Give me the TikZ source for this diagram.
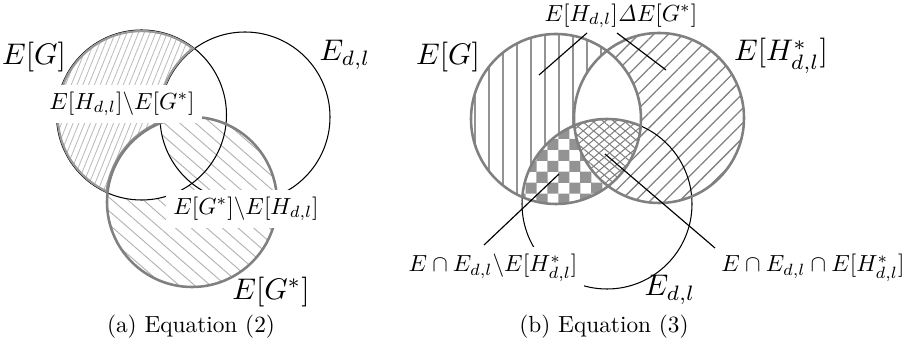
\documentclass[tikz,border=0pt]{standalone}
\usepackage{amsmath}
\usetikzlibrary{patterns,patterns.meta}
\pgfdeclarepattern{
  name=bigchecker,
  type=uncolored,
  bottom left={\pgfpoint{-0.1pt}{-0.1pt}},
  top right={\pgfpoint{9.5pt}{9.5pt}},
  tile size={\pgfpoint{9.4pt}{9.4pt}},
  code={
    \pgfpathrectangle{\pgfpointorigin}{\pgfpoint{4.75pt}{4.75pt}}
    \pgfpathrectangle{\pgfpoint{4.7pt}{4.7pt}}{\pgfpoint{4.75pt}{4.75pt}}
    \pgfusepath{fill}
  }
}
\def\circr{85}
\begin{document}
\begin{tikzpicture}[x=0.4293pt,y=-0.4293pt,
  thinc/.style={draw=black, line width=0.45pt},
  grayc/.style={draw=gray, line width=1.1pt},
  grayin/.style={draw=gray!80, line width=1.9pt},
  biglbl/.style={scale=1.28, transform shape, inner sep=0pt},
  wlbl/.style={fill=white, inner sep=3pt},
  plbl/.style={inner sep=0pt},
  leader/.style={draw=black, line width=0.5pt},
]
\useasboundingbox (0,0) rectangle (914,347);
% ---------------- (a) ----------------
\coordinate (ga) at (141.5,115);
\coordinate (da) at (245,117);
\coordinate (sa) at (192,202);
% region 1: E[G] \ (E_dl u E[G*])
\begin{scope}[even odd rule]
  \clip (ga) circle[radius=\circr];
  \clip (0,0) rectangle (914,347) (da) circle[radius=\circr];
  \clip (0,0) rectangle (914,347) (sa) circle[radius=\circr];
  \fill[pattern={Lines[angle=68,distance=2.3pt,line width=0.35pt]}, pattern color=gray!55] (0,0) rectangle (914,347);
\end{scope}
% region 2a: E[G*] n E_dl
\begin{scope}
  \clip (sa) circle[radius=\circr];
  \clip (da) circle[radius=\circr];
  \fill[pattern={Lines[angle=-41,distance=4.4pt,line width=0.4pt]}, pattern color=gray!60] (0,0) rectangle (914,347);
\end{scope}
% region 2b: E[G*] \ (E[G] u E_dl)
\begin{scope}[even odd rule]
  \clip (sa) circle[radius=\circr];
  \clip (0,0) rectangle (914,347) (ga) circle[radius=\circr];
  \clip (0,0) rectangle (914,347) (da) circle[radius=\circr];
  \fill[pattern={Lines[angle=-41,distance=4.4pt,line width=0.4pt]}, pattern color=gray!60] (0,0) rectangle (914,347);
\end{scope}
\draw[thinc] (ga) circle[radius=\circr];
\draw[thinc] (da) circle[radius=\circr];
\begin{scope}[even odd rule]
  \clip (ga) circle[radius=\circr];
  \clip (0,0) rectangle (914,347) (da) circle[radius=\circr];
  \clip (0,0) rectangle (914,347) (sa) circle[radius=\circr];
  \draw[grayin] (ga) circle[radius=\circr];
  \draw[grayin] (da) circle[radius=\circr];
  \draw[grayin] (sa) circle[radius=\circr];
\end{scope}
\draw[grayc] (sa) circle[radius=\circr];
\node[biglbl] (nGa) at (34,57) {$E[G]$};
\node[biglbl] (nDa) at (345,55) {$E_{d,l}$};
\node[biglbl] (nSa) at (271,292) {$E[G^*]$};
\node[wlbl] (nR1) at (122,104) {$E[H_{d,l}]\backslash E[G^*]$};
\node[wlbl] (nR2) at (246,209) {$E[G^*]\backslash E[H_{d,l}]$};
\node[plbl] (capA) at (191,327) {(a) Equation (2)};
% ---------------- (b) ----------------
\coordinate (gb) at (556,119);
\coordinate (hb) at (659,118);
\coordinate (db) at (607,204);
% V: E[G] \ (H u D)
\begin{scope}[even odd rule]
  \clip (gb) circle[radius=\circr];
  \clip (0,0) rectangle (914,347) (hb) circle[radius=\circr];
  \clip (0,0) rectangle (914,347) (db) circle[radius=\circr];
  \fill[pattern={Lines[angle=90,distance=6pt,line width=1.1pt]}, pattern color=gray!85] (0,0) rectangle (914,347);
\end{scope}
% N: H \ G
\begin{scope}[even odd rule]
  \clip (hb) circle[radius=\circr];
  \clip (0,0) rectangle (914,347) (gb) circle[radius=\circr];
  \fill[pattern={Lines[angle=45,distance=4.5pt,line width=0.55pt]}, pattern color=gray] (0,0) rectangle (914,347);
\end{scope}
% C: G n D \ H
\begin{scope}[even odd rule]
  \clip (gb) circle[radius=\circr];
  \clip (db) circle[radius=\circr];
  \clip (0,0) rectangle (914,347) (hb) circle[radius=\circr];
  \fill[pattern=bigchecker, pattern color=gray!85] (0,0) rectangle (914,347);
\end{scope}
% X: G n D n H
\begin{scope}
  \clip (gb) circle[radius=\circr];
  \clip (db) circle[radius=\circr];
  \clip (hb) circle[radius=\circr];
  \fill[pattern={Lines[angle=40,distance=2.9pt,line width=0.45pt]}, pattern color=gray] (0,0) rectangle (914,347);
  \fill[pattern={Lines[angle=-40,distance=2.9pt,line width=0.45pt]}, pattern color=gray] (0,0) rectangle (914,347);
\end{scope}
\draw[thinc] (db) circle[radius=\circr];
\draw[grayc] (gb) circle[radius=\circr];
\draw[grayc] (hb) circle[radius=\circr];
\begin{scope}
  \clip (gb) circle[radius=\circr];
  \draw[grayc] (db) circle[radius=\circr];
\end{scope}
\node[biglbl] (nGb) at (448,57) {$E[G]$};
\node[biglbl] (nHb) at (781,56) {$E[H^*_{d,l}]$};
\node[biglbl] (nDb) at (670,290) {$E_{d,l}$};
\node[plbl] (nTop) at (621,16) {$E[H_{d,l}]\mathit{\Delta} E[G^*]$};
\node[wlbl] (nBL) at (493,268) {$E\cap E_{d,l}\backslash E[H^*_{d,l}]$};
\node[plbl] (nBR) at (813,268) {$E\cap E_{d,l}\cap E[H^*_{d,l}]$};
\node[plbl] (capB) at (604,327) {(b) Equation (3)};
\coordinate (t1a) at (587,33);
\coordinate (t1b) at (539,75);
\coordinate (t2a) at (617,33);
\coordinate (t2b) at (666,70);
\coordinate (bla) at (484,245);
\coordinate (blb) at (559,174);
\coordinate (bra) at (715,248);
\coordinate (brb) at (605,154);
\draw[leader] (t1a) -- (t1b);
\draw[leader] (t2a) -- (t2b);
\draw[leader] (bla) -- (blb);
\draw[leader] (bra) -- (brb);
\end{tikzpicture}
\end{document}
